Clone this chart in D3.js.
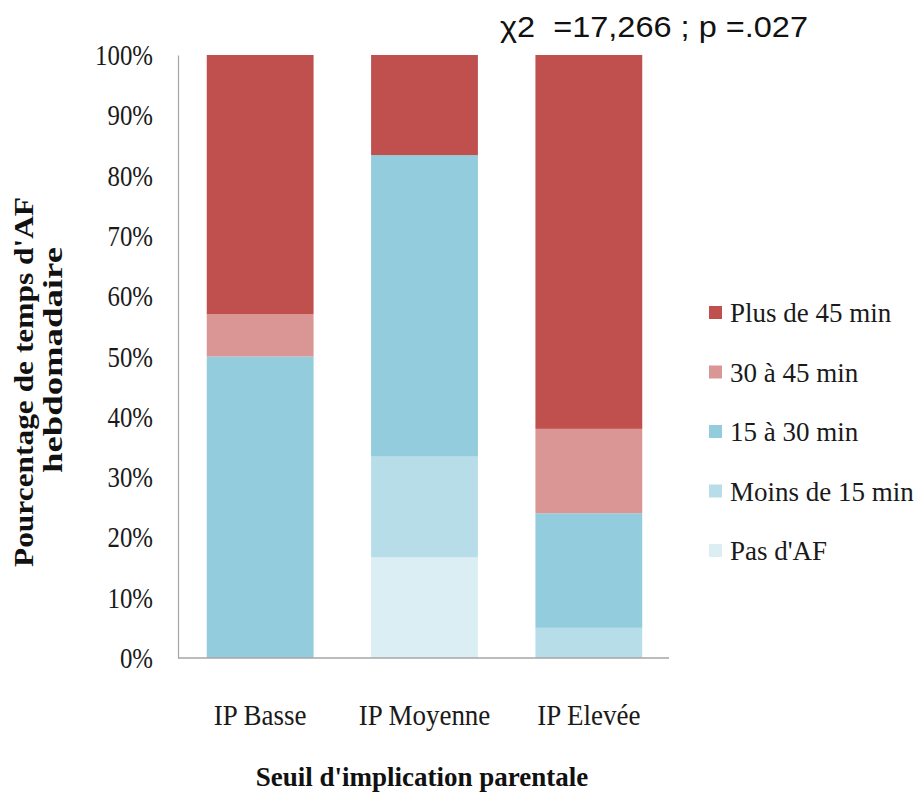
<!DOCTYPE html>
<html><head><meta charset="utf-8">
<script src="https://cdn.jsdelivr.net/npm/d3@7"></script>
<style>body{margin:0;background:#fff}svg{display:block}</style>
</head><body>
<svg id="c" width="914" height="797"></svg>
<script>
const categories = ["IP Basse", "IP Moyenne", "IP Elevée"];
const seriesNames = ["Pas d'AF", "Moins de 15 min", "15 à 30 min", "30 à 45 min", "Plus de 45 min"];
const pasAF     = [0, 16.7, 0];
const moins15   = [0, 16.7, 5];
const de15a30   = [50, 50, 19];
const de30a45   = [7, 0, 14];
const plus45    = [43, 16.6, 62];
const colors = ["#dbeef4", "#b7dde8", "#93cddd", "#d99694", "#c0504d"];
const yTicks = [0,10,20,30,40,50,60,70,80,90,100];
const title = "χ2  =17,266 ; p =.027";
const yLabel = ["Pourcentage de temps d'AF", "hebdomadaire"];
const xLabel = "Seuil d'implication parentale";

const serif = "'Liberation Serif','DejaVu Serif',serif";
const svg = d3.select("#c");
const rows = categories.map((c,i)=>({cat:c, "Pas d'AF":pasAF[i], "Moins de 15 min":moins15[i], "15 à 30 min":de15a30[i], "30 à 45 min":de30a45[i], "Plus de 45 min":plus45[i]}));
const stack = d3.stack().keys(seriesNames).offset(d3.stackOffsetExpand)(rows);

const x = d3.scaleBand().domain(categories).range([178, 671]).paddingInner(0.35).paddingOuter(0.175);
const y = d3.scaleLinear().domain([0,1]).range([658, 55]);
const color = d3.scaleOrdinal().domain(seriesNames).range(colors);

svg.append("g").selectAll("g").data(stack).join("g").attr("fill", d=>color(d.key))
  .selectAll("rect").data(d=>d).join("rect")
  .attr("x", d=>x(d.data.cat)).attr("width", x.bandwidth())
  .attr("y", d=>y(d[1])).attr("height", d=>Math.max(0, y(d[0])-y(d[1])));

// y axis
const ya = svg.append("g").attr("transform","translate(178,0)")
  .call(d3.axisLeft(y).tickValues(yTicks.map(t=>t/100)).tickFormat(d=>Math.round(d*100)+"%").tickSize(0).tickPadding(25));
ya.select(".domain").attr("stroke","#a6a6a6").attr("stroke-width",1.2);
ya.selectAll("text").attr("font-family",serif).attr("font-size",27).attr("fill","#1a1a1a")
  .attr("transform","scale(0.92,1.1)").attr("dy","0.32em")
  .attr("x", -25/0.92).attr("y", 0);

// x axis
const xa = svg.append("g").attr("transform","translate(0,658)")
  .call(d3.axisBottom(x).tickSize(0).tickPadding(0));
xa.select(".domain").attr("d","M0,0H491").attr("transform","translate(178,0)").attr("stroke","#a6a6a6").attr("stroke-width",1.5);
xa.selectAll("text").attr("font-family",serif).attr("font-size",27).attr("fill","#1a1a1a").attr("dy",0)
  .attr("transform","scale(1,1.1)").attr("y",61);

// title
svg.append("text").attr("x",500).attr("y",37).attr("font-family","'Liberation Sans','Open Sans',sans-serif")
  .attr("font-size",30).attr("textLength",308).attr("lengthAdjust","spacingAndGlyphs").attr("fill","#111")
  .style("white-space","pre").text(title);

// y label
const yl = svg.append("text").attr("transform","rotate(-90)").attr("font-family",serif)
  .attr("font-weight","bold").attr("font-size",27).attr("text-anchor","middle").attr("fill","#111");
yl.append("tspan").attr("x",-382).attr("y",33).attr("textLength",370).attr("lengthAdjust","spacingAndGlyphs").text(yLabel[0]);
yl.append("tspan").attr("x",-360).attr("y",62).attr("textLength",226).attr("lengthAdjust","spacingAndGlyphs").text(yLabel[1]);

// x label
svg.append("text").attr("x",422).attr("y",786).attr("text-anchor","middle").attr("font-family",serif)
  .attr("font-weight","bold").attr("font-size",27).attr("fill","#111").text(xLabel);

// legend
const legOrder = seriesNames.slice().reverse();
const lg = svg.append("g").selectAll("g").data(legOrder).join("g")
  .attr("transform",(d,i)=>`translate(709,${313 + i*59.5})`);
lg.append("rect").attr("x",0).attr("y",-7).attr("width",13).attr("height",13).attr("fill",d=>color(d));
lg.append("text").attr("x",21).attr("y",0).attr("dy","0.35em").attr("font-family",serif).attr("font-size",27)
  .attr("fill","#1a1a1a").text(d=>d);
</script>
</body></html>
